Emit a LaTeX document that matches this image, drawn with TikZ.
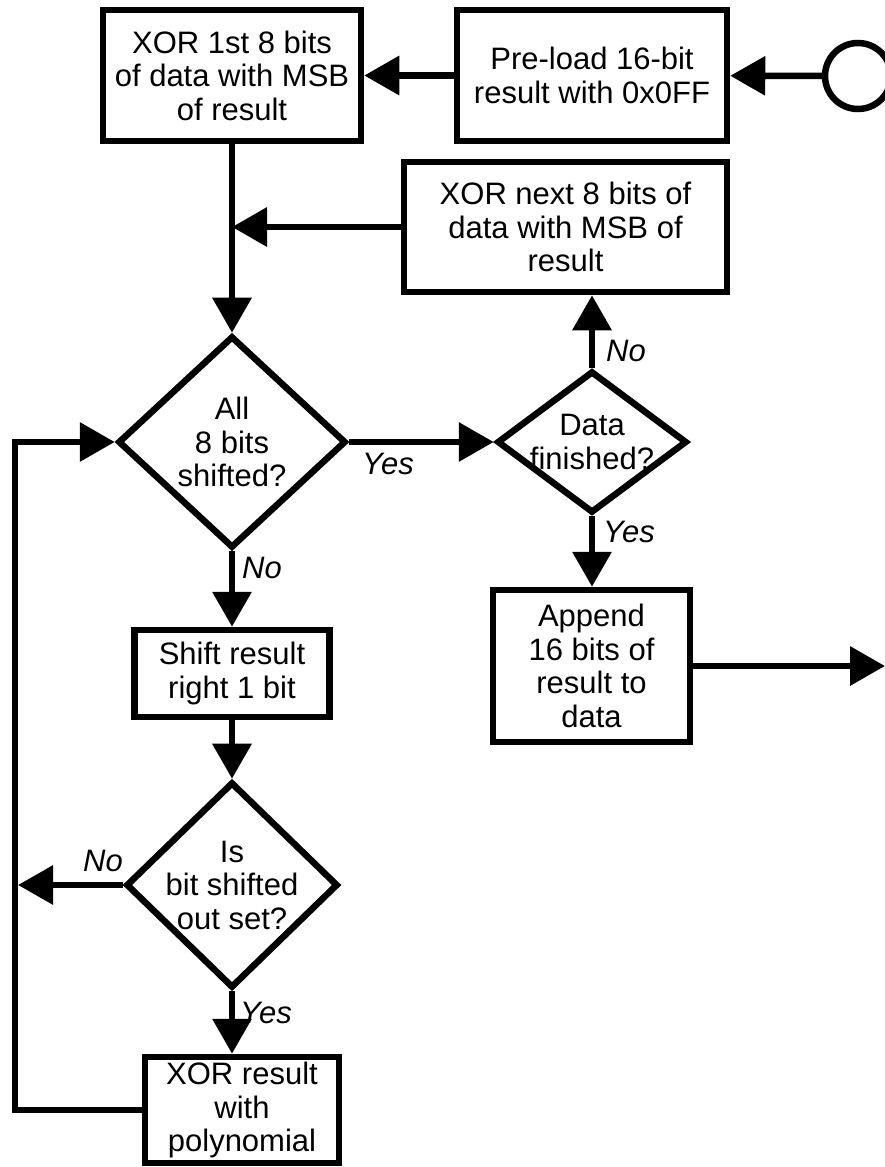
\documentclass[tikz,border=0pt]{standalone}
\usepackage{fontspec}
\setmainfont{Liberation Sans}
\usetikzlibrary{shapes.geometric, arrows.meta}

\begin{document}
\begin{tikzpicture}[x=1pt, y=-1pt, line width=6.5pt,
		every node/.style={font=\fontsize{31}{33.5}\selectfont, align=center},
		box/.style={rectangle, draw, inner sep=0pt},
		test/.style={diamond, draw, inner sep=0pt},
		tag/.style={font=\fontsize{31}{33.5}\selectfont\itshape},
		arr/.style={-{Triangle[length=35pt, width=38pt]}}]
			\useasboundingbox (0,0) rectangle (885,1167);
			
			% start
			\node (start) [circle, draw, minimum size=66pt] at (858,76) {};
			\node (pre) [box, minimum width=270pt, minimum height=131pt] at (592,75.5) {Pre-load 16-bit\\result with 0x0FF};
			\node (xor1) [box, minimum width=258pt, minimum height=131pt] at (232,75.5) {XOR 1st 8 bits\\of data with MSB\\of result};
			\draw[arr] (start) -- (pre);
			\draw[arr] (pre) -- (xor1);
			
			% byte loop
			\node (xornext) [box, minimum width=323pt, minimum height=130pt] at (565.5,227) {XOR next 8 bits of\\data with MSB of\\result};
			\node (allbits) [test, minimum width=228pt, minimum height=212pt] at (232,442) {All\\8 bits\\shifted?};
			\node (done) [test, shape aspect=1.33, inner sep=-4pt, minimum width=190pt, minimum height=142pt] at (592,442) {Data\\finished?};
			\node (append) [box, minimum width=197pt, minimum height=152pt] at (591.5,666) {Append\\16 bits of\\result to\\data};
			\coordinate (join) at (xor1.south |- xornext.west);
			\coordinate (out) at (885,666);
			\draw[arr] (xor1) -- (allbits);
			\draw[arr] (xornext) -- (join);
			\draw[arr] (allbits) -- (done);
			\draw[arr] (done) -- (done |- xornext.south);
			\draw[arr] (done) -- (done |- append.north);
			\draw[arr] (append) -- (out);
			\node (yes1) [tag] at (388,464) {Yes};
			\node (no1) [tag] at (626,351) {No};
			\node (yes2) [tag] at (629,532) {Yes};
			
			% bit loop
			\node (shift) [box, minimum width=195pt, minimum height=87pt] at (232,673.5) {Shift result\\right 1 bit};
			\node (isset) [test, inner sep=-7pt, minimum width=212pt, minimum height=206pt] at (232,885) {Is\\bit shifted\\out set?};
			\node (poly) [box, minimum width=194pt, minimum height=106pt] at (242,1110) {XOR result\\with\\polynomial};
			\coordinate (back) at (18,885);
			\coordinate (corner) at (15,1110);
			\draw[arr] (allbits) -- (shift);
			\draw[arr] (shift) -- (isset);
			\draw[arr] (isset) -- (isset |- poly.north);
			\draw[arr] (isset) -- (back);
			\draw[arr] (poly) -- (corner) |- (allbits);
			\node (no2) [tag] at (262,568) {No};
			\node (no3) [tag] at (103,861) {No};
			\node (yes3) [tag] at (266,1013) {Yes};
		\end{tikzpicture}
\end{document}
